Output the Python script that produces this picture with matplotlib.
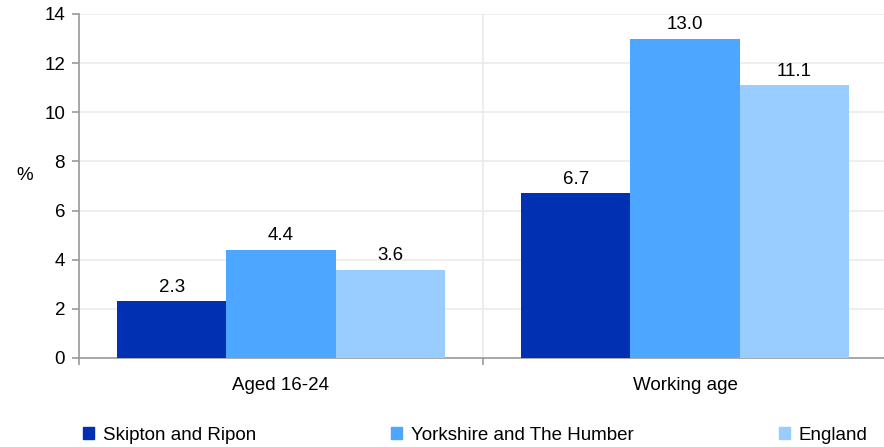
import matplotlib
matplotlib.use("Agg")
import matplotlib.pyplot as plt
from matplotlib.patches import Patch

categories = ["Aged 16-24", "Working age"]
series_names = ["Skipton and Ripon", "Yorkshire and The Humber", "England"]
skipton = [2.3, 6.7]
yorkshire = [4.4, 13.0]
england = [3.6, 11.1]
colors = ["#0230B2", "#4DA6FF", "#99CCFF"]
yticks = [0, 2, 4, 6, 8, 10, 12, 14]

plt.rcParams['font.family'] = ['Liberation Sans', 'DejaVu Sans']
FS = 13.5

fig = plt.figure(figsize=(8.84, 4.47), dpi=100)
ax = fig.add_axes([79/884, 1-358/447, (887-79)/884, (358-14)/447])

width = 0.27
offsets = [-width, 0, width]
all_series = [skipton, yorkshire, england]
for s, (vals, off, c) in enumerate(zip(all_series, offsets, colors)):
    xs = [i + off for i in range(len(categories))]
    ax.bar(xs, vals, width=width, color=c, zorder=3)
    for x, v in zip(xs, vals):
        ax.annotate(f"{v:.1f}", (x, v), xytext=(0, 4), textcoords="offset points",
                    ha="center", va="bottom", fontsize=FS, color="#000000")

ax.set_xlim(-0.5, len(categories) - 0.5)
ax.set_ylim(0, 14)
ax.set_yticks(yticks)
ax.set_yticklabels([str(t) for t in yticks], fontsize=FS)
ax.set_xticks([-0.5, 0.5, 1.5])
ax.set_xticklabels([])
ax.set_xticks(range(len(categories)), minor=True)
ax.set_xticklabels(categories, minor=True, fontsize=FS)
ax.tick_params(axis='x', which='minor', length=0, pad=14)
ax.tick_params(axis='x', which='major', length=5, color="#999999", width=1.2)
ax.tick_params(axis='y', length=5, color="#999999", width=1.2, pad=5)

ax.grid(True, which='major', color="#EBEBEB", linewidth=1.2, zorder=0)
for sp in ['top', 'right']:
    ax.spines[sp].set_visible(False)
for sp in ['left', 'bottom']:
    ax.spines[sp].set_color("#999999")
    ax.spines[sp].set_linewidth(1.2)

fig.text(25/884, 1-176/447, "%", fontsize=FS, ha="center", va="center")

xpos = [83, 391, 779]
for name, c, xp in zip(series_names, colors, xpos):
    fig.legend(handles=[Patch(color=c, label=name)], loc="center left",
               bbox_to_anchor=(xp/884, 1-435/447), frameon=False, fontsize=FS,
               handlelength=0.6, handleheight=0.6, handletextpad=0.45,
               borderaxespad=0, borderpad=0)

fig.savefig("out.png", dpi=100)
